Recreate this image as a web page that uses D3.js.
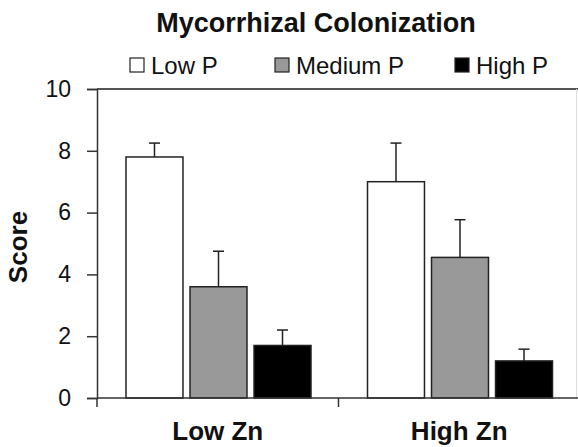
<!DOCTYPE html>
<html>
<head>
<meta charset="utf-8">
<script src="https://cdn.jsdelivr.net/npm/d3@7"></script>
<style>
  body { margin: 0; background: #fff; }
  text { font-family: "Liberation Sans", Arial, sans-serif; fill: #111; }
</style>
</head>
<body>
<script>
// data
var groups = ["Low Zn", "High Zn"];
var series = ["Low P", "Medium P", "High P"];
var lowZn = [7.8, 3.6, 1.7];
var lowZnErr = [0.45, 1.15, 0.5];
var highZn = [7.0, 4.55, 1.2];
var highZnErr = [1.25, 1.22, 0.38];
var yTicks = [0, 2, 4, 6, 8, 10];
var fills = ["#ffffff", "#999999", "#000000"];

var width = 578, height = 447;
var plotLeft = 97, plotRight = 580, plotTop = 89, plotBottom = 398;

var rows = [
    {group: groups[0], values: lowZn, errs: lowZnErr},
    {group: groups[1], values: highZn, errs: highZnErr}
];

var svg = d3.select("body")
    .append("svg")
    .attr("width", width)
    .attr("height", height);

var y = d3.scaleLinear().domain([0, 10]).range([plotBottom, plotTop]);
var x0 = d3.scaleBand().domain(groups).range([plotLeft, plotRight]).padding(0);
var x1 = d3.scaleBand().domain(series).range([29, 214]).paddingInner(0.11);
var color = d3.scaleOrdinal().domain(series).range(fills);

// title
svg.append("text")
    .attr("x", 316)
    .attr("y", 32)
    .attr("text-anchor", "middle")
    .attr("font-size", 27)
    .attr("font-weight", "bold")
    .text("Mycorrhizal Colonization");

// legend
var legX = [130, 275, 455];
var leg = svg.selectAll(".leg")
    .data(series)
    .enter()
    .append("g")
    .attr("class", "leg")
    .attr("transform", function(d, i) { return "translate(" + legX[i] + ",58)"; });

leg.append("rect")
    .attr("width", 14)
    .attr("height", 14)
    .attr("fill", function(d) { return color(d); })
    .attr("stroke", "#222")
    .attr("stroke-width", 1.2);

leg.append("text")
    .attr("x", 21)
    .attr("y", 16)
    .attr("font-size", 24)
    .text(function(d) { return d; });

// frame: top and faint right line
svg.append("line")
    .attr("x1", plotLeft).attr("x2", 578)
    .attr("y1", y(10)).attr("y2", y(10))
    .attr("stroke", "#555").attr("stroke-width", 2);
svg.append("line")
    .attr("x1", 576.5).attr("x2", 576.5)
    .attr("y1", y(10)).attr("y2", y(0))
    .attr("stroke", "#ddd").attr("stroke-width", 1);

// y axis
var yAxis = svg.append("g")
    .attr("transform", "translate(" + plotLeft + ",0)")
    .call(d3.axisLeft(y).tickValues(yTicks).tickSize(10).tickPadding(16));
yAxis.select(".domain").attr("stroke", "#333").attr("stroke-width", 1.5);
yAxis.selectAll(".tick line").attr("stroke", "#333").attr("stroke-width", 1.5);
yAxis.selectAll(".tick text")
    .attr("font-size", 23)
    .attr("font-family", "Liberation Sans, Arial, sans-serif")
    .attr("fill", "#111");

svg.append("text")
    .attr("transform", "translate(27,247) rotate(-90)")
    .attr("text-anchor", "middle")
    .attr("font-size", 26)
    .attr("font-weight", "bold")
    .text("Score");

// bars
var grp = svg.selectAll(".grp")
    .data(rows)
    .enter()
    .append("g")
    .attr("class", "grp")
    .attr("transform", function(d) { return "translate(" + x0(d.group) + ",0)"; });

var bar = grp.selectAll(".bar")
    .data(function(d) {
        return series.map(function(s, i) { return {s: s, v: d.values[i], e: d.errs[i]}; });
    })
    .enter()
    .append("g")
    .attr("class", "bar");

bar.append("line")
    .attr("x1", function(d) { return x1(d.s) + x1.bandwidth() / 2; })
    .attr("x2", function(d) { return x1(d.s) + x1.bandwidth() / 2; })
    .attr("y1", function(d) { return y(d.v); })
    .attr("y2", function(d) { return y(d.v + d.e); })
    .attr("stroke", "#222").attr("stroke-width", 1.5);

bar.append("line")
    .attr("x1", function(d) { return x1(d.s) + x1.bandwidth() / 2 - 5.5; })
    .attr("x2", function(d) { return x1(d.s) + x1.bandwidth() / 2 + 5.5; })
    .attr("y1", function(d) { return y(d.v + d.e); })
    .attr("y2", function(d) { return y(d.v + d.e); })
    .attr("stroke", "#222").attr("stroke-width", 1.5);

bar.append("rect")
    .attr("x", function(d) { return x1(d.s); })
    .attr("y", function(d) { return y(d.v); })
    .attr("width", x1.bandwidth())
    .attr("height", function(d) { return y(0) - y(d.v); })
    .attr("fill", function(d) { return color(d.s); })
    .attr("stroke", "#222")
    .attr("stroke-width", 1.5);

// x axis: line, boundary ticks, group labels
svg.append("line")
    .attr("x1", plotLeft).attr("x2", 578)
    .attr("y1", y(0)).attr("y2", y(0))
    .attr("stroke", "#333").attr("stroke-width", 1.5);

svg.selectAll(".xtick")
    .data([plotLeft, x0(groups[1]), plotRight])
    .enter()
    .append("line")
    .attr("class", "xtick")
    .attr("x1", function(d) { return d; })
    .attr("x2", function(d) { return d; })
    .attr("y1", y(0))
    .attr("y2", y(0) + 9)
    .attr("stroke", "#333").attr("stroke-width", 1.5);

svg.selectAll(".xlab")
    .data(groups)
    .enter()
    .append("text")
    .attr("class", "xlab")
    .attr("x", function(d) { return x0(d) + x0.bandwidth() / 2; })
    .attr("y", 440)
    .attr("text-anchor", "middle")
    .attr("font-size", 26)
    .attr("font-weight", "bold")
    .text(function(d) { return d; });
</script>
</body>
</html>
